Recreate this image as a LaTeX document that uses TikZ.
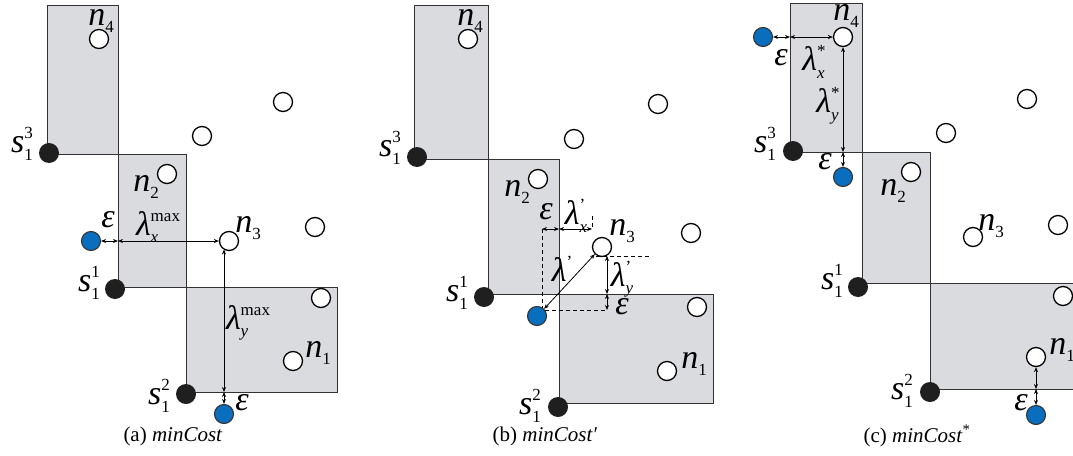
\documentclass[tikz,border=0pt]{standalone}
\usepackage{fontspec}
\setmainfont{Liberation Serif}
\usetikzlibrary{arrows.meta}
\definecolor{boxgray}{RGB}{218,219,222}
\definecolor{edgegray}{RGB}{50,50,50}
\definecolor{dotblue}{RGB}{10,110,190}
\newcommand{\subf}{\fontsize{17}{17}\selectfont\upshape}
\newcommand{\symb}[3]{\mbox{#1{\subf\setbox0=\hbox{#2}\setbox2=\hbox{#3}\ifdim\wd0>\wd2 \rlap{\raisebox{-7.5pt}{\copy2}}\raisebox{14pt}{\copy0}\else\rlap{\raisebox{14pt}{\copy0}}\raisebox{-7.5pt}{\copy2}\fi}}}
\newcommand{\nsub}[2]{\mbox{#1{\subf\raisebox{-7.5pt}{#2}}}}
\newcommand{\nsup}[2]{\mbox{#1{\subf\raisebox{14pt}{#2}}}}
\tikzset{
  region/.style={fill=boxgray},
  regionedge/.style={draw=edgegray, line width=1pt},
  wnode/.style={circle, draw=black, fill=white, line width=1.3pt, minimum size=19pt, inner sep=0pt},
  snode/.style={circle, fill=black!88, minimum size=20pt, inner sep=0pt},
  bnode/.style={circle, draw=black!80, fill=dotblue, line width=1.1pt, minimum size=19pt, inner sep=0pt},
  lab/.style={font=\fontsize{34}{34}\selectfont\itshape, inner sep=0pt},
  captext/.style={font=\fontsize{21}{21}\selectfont, inner sep=0pt},
  dim/.style={line width=0.8pt, {Stealth[length=5pt,width=4pt]}-{Stealth[length=5pt,width=4pt]}},
  guide/.style={line width=0.8pt, dash pattern=on 4pt off 3pt}
}
\begin{document}
\begin{tikzpicture}[x=1pt,y=-1pt]
\useasboundingbox (0,0) rectangle (1073,455);
\clip (0,0) rectangle (1073,455);

% ---------------- panel (a) ----------------
\fill[region] (47,5) rectangle (118,154);
\fill[region] (118,154) rectangle (186,287);
\fill[region] (186,287) rectangle (337,392);
\draw[regionedge] (47,5) rectangle (118,154);
\draw[regionedge] (118,154) rectangle (186,287);
\draw[regionedge] (186,287) rectangle (337,392);

\node[wnode] (a4) at (99,39) {};
\node[wnode] (aw1) at (283,102) {};
\node[wnode] (aw2) at (202,136) {};
\node[wnode] (a2) at (167,174) {};
\node[wnode] (a3) at (229,241) {};
\node[wnode] (aw3) at (315,227) {};
\node[wnode] (aw4) at (321,298) {};
\node[wnode] (a1) at (293,361) {};
\node[snode] (as3) at (49,153) {};
\node[snode] (as1) at (115,289) {};
\node[snode] (as2) at (186,394) {};
\node[bnode] (ab1) at (91,241) {};
\node[bnode] (ab2) at (224,414) {};

\coordinate (aL) at (118,241);
\coordinate (aT) at (224,249.5);
\coordinate (aB) at (224,392);
\draw[dim] (ab1.east) -- (aL);
\draw[dim] (aL) -- (a3.west);
\draw[dim] (aT) -- (aB);
\draw[dim] (aB) -- (ab2.north);

\node[lab] (la4) at (101,21) {\nsub{n}{4}};
\node[lab] (las3) at (22,144) {\symb{s}{3}{1}};
\node[lab] (la2) at (146,187) {\nsub{n}{2}};
\node[lab] (lae1) at (108,220) {ε};
\node[lab] (lalx) at (158,227) {\symb{λ}{max}{\itshape x}};
\node[lab] (la3) at (248,228) {\nsub{n}{3}};
\node[lab] (las1) at (89,283) {\symb{s}{1}{1}};
\node[lab] (laly) at (248,323) {\symb{λ}{max}{\itshape y}};
\node[lab] (la1) at (318,353) {\nsub{n}{1}};
\node[lab] (las2) at (159,396) {\symb{s}{2}{1}};
\node[lab] (lae2) at (242,403) {ε};
\node[captext] (capa) at (173,436) {(a) \textit{minCost}};

% ---------------- panel (b) ----------------
\fill[region] (414,5) rectangle (488,159);
\fill[region] (488,159) rectangle (559,294);
\fill[region] (559,294) rectangle (713,403);
\draw[regionedge] (414,5) rectangle (488,159);
\draw[regionedge] (488,159) rectangle (559,294);
\draw[regionedge] (559,294) rectangle (713,403);

\node[wnode] (b4) at (468,39) {};
\node[wnode] (bw1) at (658,104) {};
\node[wnode] (bw2) at (574,139) {};
\node[wnode] (b2) at (538,179) {};
\node[wnode] (b3) at (602,247) {};
\node[wnode] (bw3) at (691,233) {};
\node[wnode] (bw4) at (697,307) {};
\node[wnode] (b1) at (667,371) {};
\node[snode] (bs3) at (417,157) {};
\node[snode] (bs1) at (484,297) {};
\node[snode] (bs2) at (558,407) {};

\coordinate (bX0) at (542,229);
\coordinate (bX1) at (559,229);
\coordinate (bX2) at (592,229);
\coordinate (bX2t) at (592,216);
\coordinate (bY0) at (607,256);
\coordinate (bY1) at (607,294);
\coordinate (bY2) at (607,310);
\coordinate (bH0) at (596,256);
\coordinate (bH1) at (652,256);
\coordinate (bV1) at (542,310);

\draw[guide] (bX0) -- (bV1) -- (bY2);
\draw[guide] (bX2t) -- (bX2);
\draw[guide] (bH0) -- (bH1);
\node[bnode] (bb) at (537,316) {};
\draw[dim] (bX0) -- (bX1);
\draw[dim] (bX1) -- (bX2);
\draw[dim] (bb.north east) -- (b3.south west);
\draw[dim] (bY0) -- (bY1);
\draw[dim] (bY1) -- (bY2);

\node[lab] (lb4) at (470,21) {\nsub{n}{4}};
\node[lab] (lbs3) at (390,148) {\symb{s}{3}{1}};
\node[lab] (lb2) at (517,192) {\nsub{n}{2}};
\node[lab] (lbe1) at (546,212) {ε};
\node[lab] (lblx) at (576,216) {\symb{λ}{'}{\itshape x}};
\node[lab] (lb3) at (622,231) {\nsub{n}{3}};
\node[lab] (lbl) at (562,269) {\nsup{λ}{'}};
\node[lab] (lbly) at (622,279) {\symb{λ}{'}{\itshape y}};
\node[lab] (lbe2) at (622,307) {ε};
\node[lab] (lbs1) at (457,293) {\symb{s}{1}{1}};
\node[lab] (lb1) at (694,364) {\nsub{n}{1}};
\node[lab] (lbs2) at (530,406) {\symb{s}{2}{1}};
\node[captext] (capb) at (545,436) {(b) \textit{minCost′}};

% ---------------- panel (c) ----------------
\fill[region] (790,3) rectangle (862,152);
\fill[region] (862,152) rectangle (930,283);
\fill[region] (930,283) rectangle (1090,389);
\draw[regionedge] (790,3) rectangle (862,152);
\draw[regionedge] (862,152) rectangle (930,283);
\draw[regionedge] (930,283) rectangle (1090,389);

\node[wnode] (c4) at (843,37) {};
\node[wnode] (cw1) at (1027,99) {};
\node[wnode] (cw2) at (946,133) {};
\node[wnode] (c2) at (911,172) {};
\node[wnode] (c3) at (973,237) {};
\node[wnode] (cw3) at (1058,225) {};
\node[wnode] (cw4) at (1063,296) {};
\node[wnode] (c1) at (1036,357) {};
\node[snode] (cs3) at (793,151) {};
\node[snode] (cs1) at (858,287) {};
\node[snode] (cs2) at (930,392) {};
\node[bnode] (cb1) at (763,37) {};
\node[bnode] (cb2) at (843,177) {};
\node[bnode] (cb3) at (1036,415) {};

\coordinate (cL) at (790,37);
\coordinate (cB) at (843,152);
\coordinate (cB2) at (1036,389);
\draw[dim] (cb1.east) -- (cL);
\draw[dim] (cL) -- (c4.west);
\draw[dim] (c4.south) -- (cB);
\draw[dim] (cB) -- (cb2.north);
\draw[dim] (c1.south) -- (cB2);
\draw[dim] (cB2) -- (cb3.north);

\node[lab] (lc4) at (846,16) {\nsub{n}{4}};
\node[lab] (lce1) at (781,58) {ε};
\node[lab] (lclx) at (814,62) {\symb{λ}{*}{\itshape x}};
\node[lab] (lcly) at (828,106) {\symb{λ}{*}{\itshape y}};
\node[lab] (lcs3) at (765,144) {\symb{s}{3}{1}};
\node[lab] (lce2) at (825,162) {ε};
\node[lab] (lc2) at (893,191) {\nsub{n}{2}};
\node[lab] (lc3) at (991,226) {\nsub{n}{3}};
\node[lab] (lcs1) at (832,281) {\symb{s}{1}{1}};
\node[lab] (lc1) at (1062,350) {\nsub{n}{1}};
\node[lab] (lcs2) at (902,391) {\symb{s}{2}{1}};
\node[lab] (lce3) at (1021,403) {ε};
\node[captext] (capc) at (917,436) {(c) \textit{minCost}\textsuperscript{*}};
\end{tikzpicture}
\end{document}
